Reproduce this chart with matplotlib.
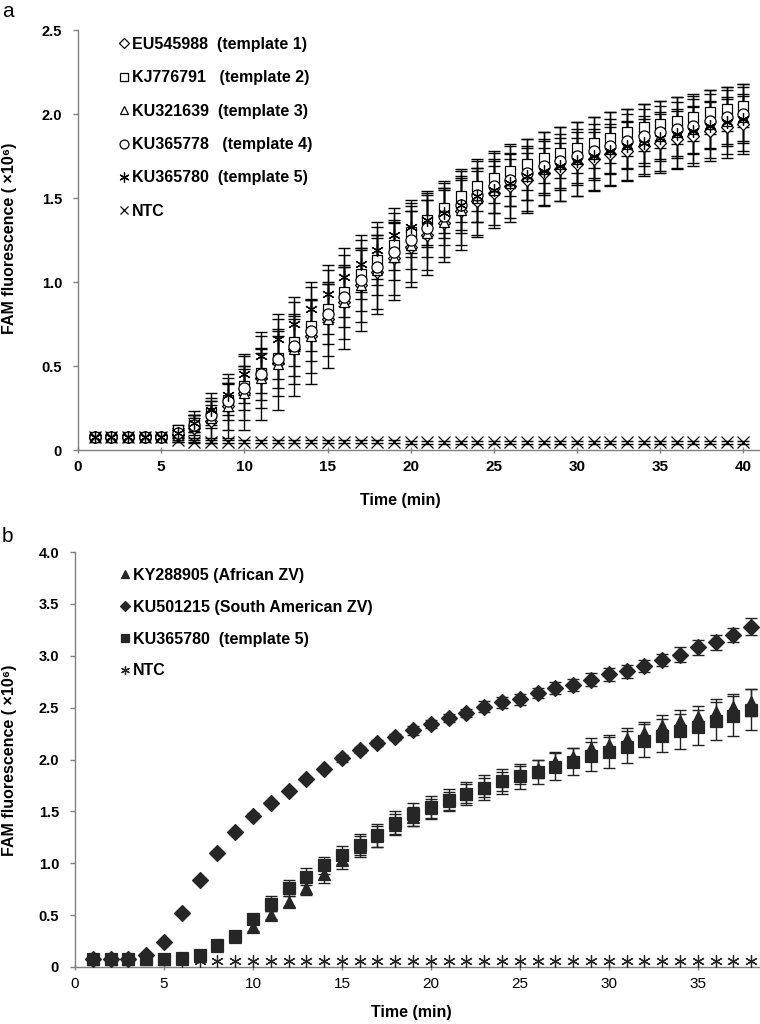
import matplotlib
matplotlib.use("Agg")
import matplotlib.pyplot as plt

plt.rcParams['font.family'] = ['Liberation Sans', 'DejaVu Sans']

# ----------------------
# Panel a data (time 1..40 min)
# ----------------------
time_a = list(range(1, 41))

t1_diamond = [0.08, 0.08, 0.08, 0.08, 0.08, 0.09, 0.13, 0.17, 0.26, 0.34,
              0.43, 0.52, 0.60, 0.68, 0.78, 0.88, 0.98, 1.06, 1.14, 1.21,
              1.28, 1.35, 1.42, 1.48, 1.53, 1.57, 1.61, 1.65, 1.67, 1.70,
              1.73, 1.76, 1.78, 1.81, 1.83, 1.85, 1.87, 1.90, 1.92, 1.94]
t2_square = [0.08, 0.08, 0.08, 0.08, 0.08, 0.12, 0.16, 0.22, 0.30, 0.38,
             0.46, 0.55, 0.64, 0.74, 0.84, 0.94, 1.05, 1.13, 1.22, 1.30,
             1.37, 1.44, 1.51, 1.57, 1.62, 1.66, 1.70, 1.74, 1.77, 1.80,
             1.83, 1.86, 1.89, 1.92, 1.94, 1.96, 1.98, 2.01, 2.03, 2.05]
t3_triangle = [0.08, 0.08, 0.08, 0.08, 0.08, 0.09, 0.14, 0.19, 0.26, 0.34,
               0.43, 0.51, 0.60, 0.68, 0.78, 0.88, 0.98, 1.07, 1.15, 1.22,
               1.29, 1.36, 1.43, 1.50, 1.55, 1.59, 1.63, 1.67, 1.70, 1.73,
               1.76, 1.79, 1.82, 1.85, 1.87, 1.89, 1.91, 1.94, 1.96, 1.98]
t4_circle = [0.08, 0.08, 0.08, 0.08, 0.08, 0.10, 0.15, 0.21, 0.29, 0.37,
             0.45, 0.54, 0.62, 0.71, 0.81, 0.91, 1.01, 1.09, 1.18, 1.25,
             1.32, 1.39, 1.46, 1.52, 1.57, 1.61, 1.65, 1.69, 1.72, 1.75,
             1.78, 1.81, 1.84, 1.87, 1.89, 1.91, 1.93, 1.96, 1.98, 2.00]
t5_aster = [0.08, 0.08, 0.08, 0.08, 0.08, 0.10, 0.16, 0.24, 0.33, 0.45,
            0.56, 0.66, 0.75, 0.84, 0.93, 1.03, 1.11, 1.19, 1.28, 1.33,
            1.37, 1.41, 1.46, 1.51, 1.55, 1.59, 1.63, 1.66, 1.69, 1.72,
            1.75, 1.78, 1.81, 1.83, 1.86, 1.88, 1.90, 1.93, 1.95, 1.97]
ntc_a = [0.08, 0.08, 0.08, 0.08, 0.08, 0.06, 0.05, 0.05, 0.05, 0.05,
         0.05, 0.05, 0.05, 0.05, 0.05, 0.05, 0.05, 0.05, 0.05, 0.045,
         0.045, 0.045, 0.045, 0.045, 0.045, 0.045, 0.045, 0.045, 0.045, 0.045,
         0.045, 0.045, 0.045, 0.045, 0.045, 0.045, 0.045, 0.045, 0.045, 0.045]

err_t1 = [0.01, 0.01, 0.01, 0.01, 0.01, 0.03, 0.06, 0.10, 0.14, 0.16,
          0.18, 0.20, 0.21, 0.22, 0.22, 0.22, 0.22, 0.22, 0.22, 0.21,
          0.21, 0.20, 0.20, 0.20, 0.19, 0.19, 0.19, 0.19, 0.19, 0.19,
          0.18, 0.18, 0.18, 0.18, 0.18, 0.18, 0.18, 0.18, 0.18, 0.18]
err_t2 = [0.01, 0.01, 0.01, 0.01, 0.01, 0.03, 0.05, 0.07, 0.09, 0.10,
          0.12, 0.13, 0.14, 0.15, 0.15, 0.15, 0.15, 0.15, 0.15, 0.15,
          0.15, 0.15, 0.15, 0.15, 0.15, 0.15, 0.15, 0.15, 0.15, 0.15,
          0.15, 0.15, 0.14, 0.14, 0.14, 0.14, 0.14, 0.13, 0.13, 0.13]
err_t3 = [0.01, 0.01, 0.01, 0.01, 0.01, 0.04, 0.09, 0.15, 0.19, 0.22,
          0.25, 0.27, 0.28, 0.29, 0.29, 0.28, 0.27, 0.26, 0.26, 0.25,
          0.25, 0.24, 0.24, 0.23, 0.23, 0.23, 0.22, 0.22, 0.22, 0.22,
          0.22, 0.22, 0.21, 0.21, 0.21, 0.21, 0.20, 0.20, 0.20, 0.20]
err_t4 = [0.01, 0.01, 0.01, 0.01, 0.01, 0.03, 0.06, 0.08, 0.11, 0.13,
          0.15, 0.17, 0.18, 0.18, 0.18, 0.18, 0.18, 0.17, 0.17, 0.17,
          0.17, 0.17, 0.17, 0.16, 0.16, 0.16, 0.16, 0.16, 0.16, 0.16,
          0.16, 0.16, 0.16, 0.16, 0.16, 0.16, 0.16, 0.16, 0.16, 0.16]
err_t5 = [0.01, 0.01, 0.01, 0.01, 0.01, 0.02, 0.05, 0.07, 0.10, 0.12,
          0.14, 0.15, 0.16, 0.16, 0.17, 0.17, 0.17, 0.17, 0.16, 0.16,
          0.16, 0.15, 0.15, 0.15, 0.14, 0.14, 0.14, 0.14, 0.14, 0.14,
          0.14, 0.14, 0.14, 0.14, 0.14, 0.14, 0.14, 0.14, 0.14, 0.14]
err_ntc_a = [0.01] * 40

series_a = [
    ("EU545988  (template 1)", t1_diamond, err_t1, "D", 6.5),
    ("KJ776791   (template 2)", t2_square, err_t2, "s", 7),
    ("KU321639  (template 3)", t3_triangle, err_t3, "^", 7.5),
    ("KU365778   (template 4)", t4_circle, err_t4, "o", 8),
    ("KU365780  (template 5)", t5_aster, err_t5, (6, 2, 0), 9),
    ("NTC", ntc_a, err_ntc_a, "x", 8),
]

# ----------------------
# Panel b data (time 1..38 min)
# ----------------------
time_b = list(range(1, 39))

ky_african = [0.08, 0.08, 0.08, 0.08, 0.08, 0.08, 0.11, 0.20, 0.29, 0.39,
              0.50, 0.63, 0.76, 0.90, 1.03, 1.16, 1.26, 1.37, 1.45, 1.53,
              1.60, 1.67, 1.73, 1.79, 1.85, 1.91, 1.98, 2.02, 2.11, 2.14,
              2.20, 2.26, 2.32, 2.37, 2.41, 2.46, 2.51, 2.55]
ku_southam = [0.08, 0.08, 0.08, 0.12, 0.24, 0.52, 0.84, 1.10, 1.30, 1.46,
              1.58, 1.70, 1.81, 1.91, 2.01, 2.09, 2.16, 2.22, 2.28, 2.34,
              2.40, 2.45, 2.51, 2.55, 2.58, 2.64, 2.69, 2.72, 2.77, 2.82,
              2.85, 2.90, 2.96, 3.01, 3.08, 3.13, 3.20, 3.28]
ku_t5 = [0.08, 0.08, 0.08, 0.08, 0.08, 0.09, 0.12, 0.21, 0.30, 0.46,
         0.61, 0.76, 0.87, 0.98, 1.08, 1.18, 1.27, 1.39, 1.47, 1.54,
         1.61, 1.67, 1.73, 1.79, 1.84, 1.88, 1.93, 1.98, 2.03, 2.07,
         2.12, 2.18, 2.23, 2.27, 2.31, 2.37, 2.42, 2.48]
ntc_b = [0.08, 0.08, 0.08, 0.08, 0.08, 0.06, 0.055, 0.055, 0.055, 0.055,
         0.055, 0.055, 0.055, 0.055, 0.055, 0.055, 0.055, 0.055, 0.055, 0.055,
         0.055, 0.055, 0.055, 0.055, 0.055, 0.055, 0.055, 0.055, 0.055, 0.055,
         0.055, 0.055, 0.055, 0.055, 0.055, 0.055, 0.055, 0.055]

err_african = [0.01, 0.01, 0.01, 0.01, 0.01, 0.01, 0.02, 0.02, 0.03, 0.04,
               0.04, 0.05, 0.07, 0.09, 0.09, 0.10, 0.10, 0.10, 0.09, 0.09,
               0.09, 0.09, 0.09, 0.09, 0.09, 0.09, 0.09, 0.09, 0.10, 0.10,
               0.10, 0.10, 0.11, 0.11, 0.11, 0.12, 0.12, 0.13]
err_southam = [0.01, 0.01, 0.01, 0.01, 0.01, 0.02, 0.02, 0.02, 0.02, 0.02,
               0.02, 0.02, 0.02, 0.02, 0.03, 0.03, 0.03, 0.03, 0.04, 0.04,
               0.04, 0.04, 0.05, 0.05, 0.05, 0.05, 0.06, 0.06, 0.06, 0.06,
               0.06, 0.06, 0.06, 0.07, 0.07, 0.07, 0.07, 0.08]
err_t5b = [0.01, 0.01, 0.01, 0.01, 0.01, 0.01, 0.02, 0.02, 0.03, 0.05,
           0.07, 0.08, 0.08, 0.08, 0.09, 0.10, 0.11, 0.11, 0.11, 0.11,
           0.11, 0.11, 0.12, 0.12, 0.12, 0.12, 0.13, 0.13, 0.14, 0.15,
           0.15, 0.16, 0.16, 0.17, 0.17, 0.18, 0.19, 0.20]

series_b = [
    ("KY288905 (African ZV)", ky_african, err_african, "^", 9),
    ("KU501215 (South American ZV)", ku_southam, err_southam, "D", 8),
    ("KU365780  (template 5)", ku_t5, err_t5b, "s", 8.5),
    ("NTC", ntc_b, None, (6, 2, 0), 9),
]

GREY = "#808080"
W, H = 760, 1024
TICK_SIZE = 10.5
LABEL_SIZE = 11.5


def style_axes(ax, bold_x):
    for side in ("top", "right"):
        ax.spines[side].set_visible(False)
    for side in ("left", "bottom"):
        ax.spines[side].set_color(GREY)
        ax.spines[side].set_linewidth(1.0)
    ax.tick_params(axis="y", colors=GREY, length=3.5, width=1, labelcolor="black",
                   labelsize=TICK_SIZE, direction="out", pad=8)
    ax.tick_params(axis="x", colors=GREY, length=5, width=1, labelcolor="black",
                   labelsize=TICK_SIZE + 0.5, direction="inout", pad=5)
    for lab in ax.get_yticklabels():
        lab.set_fontweight("bold")
    for lab in ax.get_xticklabels():
        lab.set_fontweight("bold" if bold_x else "normal")


fig = plt.figure(figsize=(7.6, 10.24), dpi=100)

# ----------------------
# Panel a
# ----------------------
ax_a = fig.add_axes([78 / W, 1 - 450 / H, 682 / W, 420 / H])
handles = []
for label, vals, errs, mk, ms in series_a:
    ax_a.errorbar(time_a, vals, yerr=errs, fmt="none", ecolor="black",
                  elinewidth=1.0, capsize=4, capthick=1.0, zorder=2)
    h, = ax_a.plot(time_a, vals, linestyle="none", marker=mk, markersize=ms,
                   markerfacecolor="white" if mk not in ("x", (6, 2, 0)) else "black",
                   markeredgecolor="black", markeredgewidth=0.9, label=label, zorder=3)
    handles.append(h)
ax_a.set_xlim(0, 41)
ax_a.set_ylim(0, 2.5)
ax_a.set_xticks(range(0, 41, 5))
ax_a.set_yticks([0, 0.5, 1.0, 1.5, 2.0, 2.5])
ax_a.set_yticklabels(["0", "0.5", "1.0", "1.5", "2.0", "2.5"])
style_axes(ax_a, bold_x=True)
ax_a.legend(handles=handles, loc="upper left", bbox_to_anchor=(119 / W, 1 - 37 / H),
            bbox_transform=fig.transFigure, frameon=False, handlelength=0.6,
            handletextpad=0.2, labelspacing=1.15, borderpad=0, borderaxespad=0,
            markerscale=0.8, prop={"weight": "bold", "size": LABEL_SIZE})

fig.text(10 / W, 1 - 238 / H, "FAM fluorescence ( \u00d710\u2076)", rotation=90,
         ha="center", va="center", fontsize=LABEL_SIZE, fontweight="bold")
fig.text(400 / W, 1 - 500 / H, "Time (min)", ha="center", va="center",
         fontsize=LABEL_SIZE, fontweight="bold")
fig.text(2 / W, 1 - 2 / H, "a", ha="left", va="top", fontsize=15)

# ----------------------
# Panel b
# ----------------------
ax_b = fig.add_axes([75 / W, 1 - 967 / H, 685 / W, 415 / H])
handles = []
for label, vals, errs, mk, ms in series_b:
    if errs is not None:
        ax_b.errorbar(time_b, vals, yerr=errs, fmt="none", ecolor="#222222",
                      elinewidth=1.0, capsize=4, capthick=1.0, zorder=2)
    h, = ax_b.plot(time_b, vals, linestyle="none", marker=mk, markersize=ms,
                   markerfacecolor="#262626", markeredgecolor="#262626",
                   markeredgewidth=0.9, label=label, zorder=3)
    handles.append(h)
ax_b.set_xlim(0, 38.5)
ax_b.set_ylim(0, 4.0)
ax_b.set_xticks(range(0, 36, 5))
ax_b.set_yticks([0, 0.5, 1.0, 1.5, 2.0, 2.5, 3.0, 3.5, 4.0])
ax_b.set_yticklabels(["0", "0.5", "1.0", "1.5", "2.0", "2.5", "3.0", "3.5", "4.0"])
style_axes(ax_b, bold_x=False)
ax_b.legend(handles=handles, loc="upper left", bbox_to_anchor=(120 / W, 1 - 568 / H),
            bbox_transform=fig.transFigure, frameon=False, handlelength=0.6,
            handletextpad=0.2, labelspacing=1.05, borderpad=0, borderaxespad=0,
            markerscale=0.7, prop={"weight": "bold", "size": LABEL_SIZE})

fig.text(10 / W, 1 - 760 / H, "FAM fluorescence ( \u00d710\u2076)", rotation=90,
         ha="center", va="center", fontsize=LABEL_SIZE, fontweight="bold")
fig.text(411 / W, 1 - 1013 / H, "Time (min)", ha="center", va="center",
         fontsize=LABEL_SIZE, fontweight="bold")
fig.text(2 / W, 1 - 527 / H, "b", ha="left", va="top", fontsize=15)

fig.savefig("out.png", dpi=100)
plt.close(fig)
